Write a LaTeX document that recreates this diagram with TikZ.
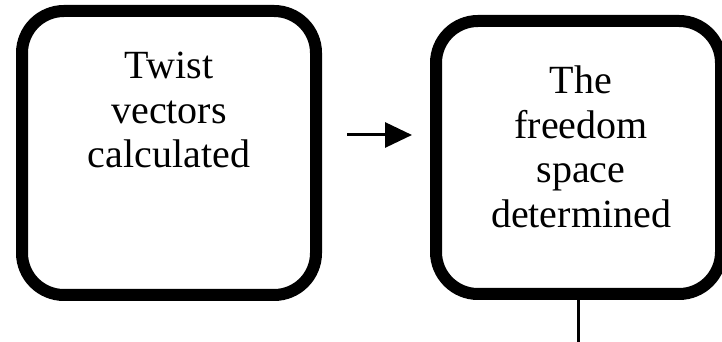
\documentclass[tikz,border=0pt]{standalone}
\usepackage{fontspec}
\setmainfont{Liberation Serif}
\usetikzlibrary{arrows.meta}
\begin{document}
\begin{tikzpicture}[x=1pt,y=1pt,
  stepbox/.style={draw=black, line width=12pt, rounded corners=42pt, inner sep=0pt},
  boxtext/.style={align=center, inner sep=0pt, anchor=north, font=\fontsize{40}{44.5}\selectfont},
  conn/.style={line width=3pt}]
\useasboundingbox (0,0) rectangle (722,342);
\node[stepbox, minimum width=294pt, minimum height=284pt] (a) at (169,189) {};
\node[stepbox, minimum width=285pt, minimum height=273pt] (b) at (578.5,184.5) {};
\node[boxtext] (ta) at (169,290) {Twist\\vectors\\calculated};
\node[boxtext] (tb) at (581,276) {The\\freedom\\space\\determined};
\coordinate (p1) at (347,207);
\coordinate (p2) at (412,207);
\draw[conn, -{Triangle[length=27pt,width=25pt]}] (p1) -- (p2);
\coordinate (p3) at (b.south |- 0,0);
\draw[line width=2.5pt] (b.south) -- (p3);
\end{tikzpicture}
\end{document}
